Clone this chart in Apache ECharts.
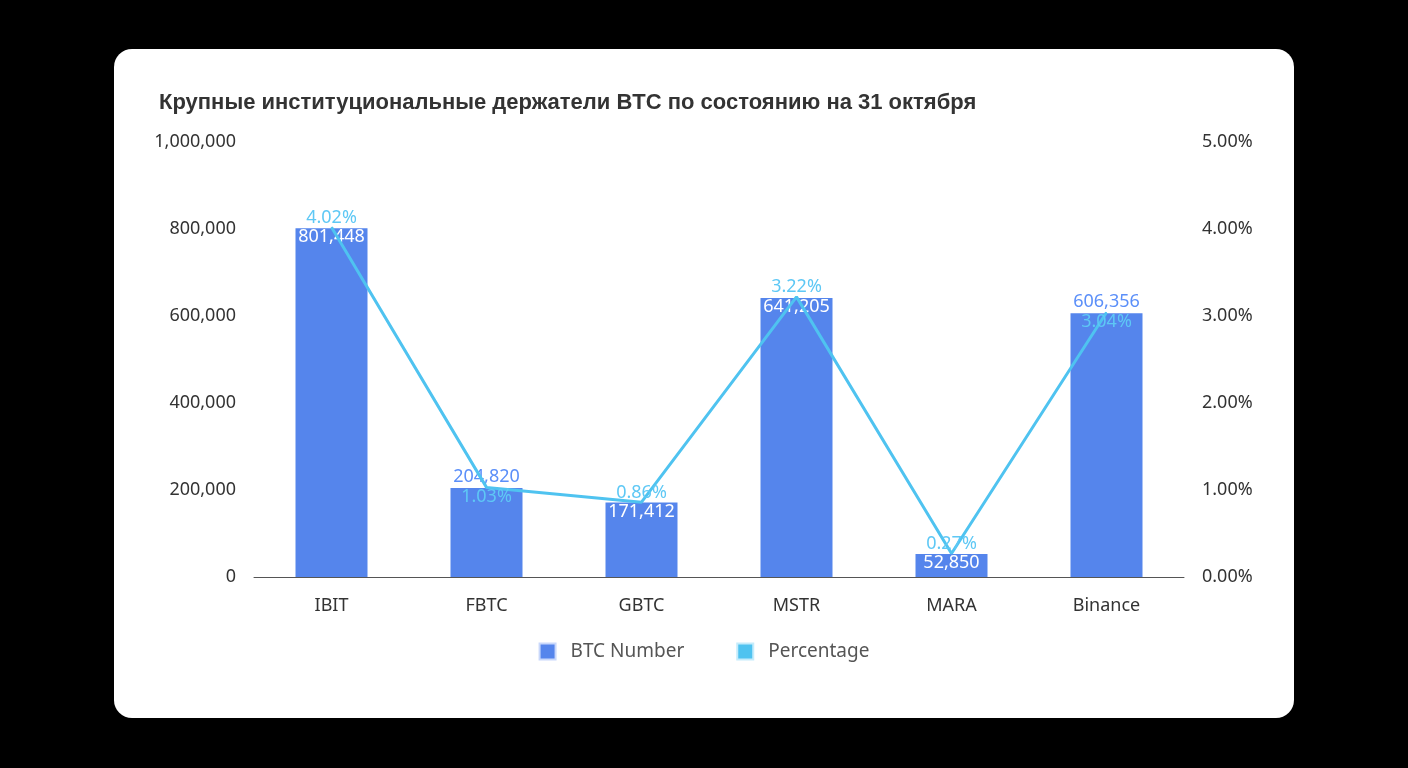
<!DOCTYPE html>
<html>
<head>
<meta charset="utf-8">
<script src="https://cdn.jsdelivr.net/npm/echarts@6/dist/echarts.min.js"></script>
<style>
  html, body { margin: 0; background: #000; }
  #card { position: absolute; left: 114px; top: 49px; width: 1180px; height: 669px; background: #fff; border-radius: 18px; overflow: hidden; }
  #main { width: 1180px; height: 669px; }
</style>
</head>
<body>
<div id="card"><div id="main"></div></div>
<script>
const categories = ['IBIT', 'FBTC', 'GBTC', 'MSTR', 'MARA', 'Binance'];
const btcNumber = [801448, 204820, 171412, 641205, 52850, 606356];
const percentage = [4.02, 1.03, 0.86, 3.22, 0.27, 3.04];

// which bar labels sit above the bar instead of inside
const barLabelOutside = [false, true, false, false, false, true];
const pctLabelBelow = [false, true, false, false, false, true];

const chart = echarts.init(document.getElementById('main'));
const font = 'Noto Sans, sans-serif';

const barData = btcNumber.map((v, i) => ({
  value: v,
  label: barLabelOutside[i]
    ? { position: 'top', color: '#5b8ff9', distance: 2 }
    : { position: 'insideTop', color: '#fff', distance: 0 }
}));
const lineData = percentage.map((v, i) => ({
  value: v,
  label: pctLabelBelow[i]
    ? { position: 'bottom', distance: 0 }
    : { position: 'top', distance: 0 }
}));

chart.setOption({
  animation: false,
  title: {
    text: 'Крупные институциональные держатели BTC по состоянию на 31 октября',
    left: 40, top: 38,
    textStyle: { fontFamily: 'Liberation Sans, Arial', fontSize: 22, fontWeight: 'bold', color: '#333' }
  },
  grid: { left: 140, right: 110, top: 93, bottom: 141 },
  legend: {
    bottom: 52, left: 'center', itemWidth: 16, itemHeight: 16, itemGap: 52,
    icon: 'rect',
    textStyle: { fontFamily: font, fontSize: 19, color: '#555', padding: [0, 0, 0, 10] },
    data: [
      { name: 'BTC Number', itemStyle: { borderColor: '#c9d8fb', borderWidth: 2 } },
      { name: 'Percentage', itemStyle: { borderColor: '#c5ecfb', borderWidth: 2 } }
    ]
  },
  xAxis: {
    type: 'category', data: categories,
    axisTick: { show: false },
    axisLine: { lineStyle: { color: '#555' } },
    axisLabel: { fontFamily: font, fontSize: 18, color: '#333', margin: 20 }
  },
  yAxis: [
    { type: 'value', min: 0, max: 1000000, interval: 200000,
      splitLine: { show: false },
      axisLabel: { fontFamily: font, fontSize: 18, color: '#333', margin: 18,
        formatter: v => v.toLocaleString('en-US') } },
    { type: 'value', min: 0, max: 5, interval: 1,
      splitLine: { show: false },
      axisLabel: { fontFamily: font, fontSize: 18, color: '#333', margin: 18,
        formatter: v => v.toFixed(2) + '%' } }
  ],
  series: [
    { name: 'BTC Number', type: 'bar', data: barData, barWidth: 72,
      itemStyle: { color: '#5585ec' },
      label: { show: true, fontFamily: font, fontSize: 18,
        formatter: p => p.value.toLocaleString('en-US') } },
    { name: 'Percentage', type: 'line', yAxisIndex: 1, data: lineData,
      symbol: 'circle', symbolSize: 1, showSymbol: true,
      lineStyle: { color: '#4fc3f0', width: 3 },
      itemStyle: { color: '#4fc3f0' },
      label: { show: true, fontFamily: font, fontSize: 18, color: '#5ec8f5',
        formatter: p => p.value.toFixed(2) + '%' } }
  ]
});
</script>
</body>
</html>
